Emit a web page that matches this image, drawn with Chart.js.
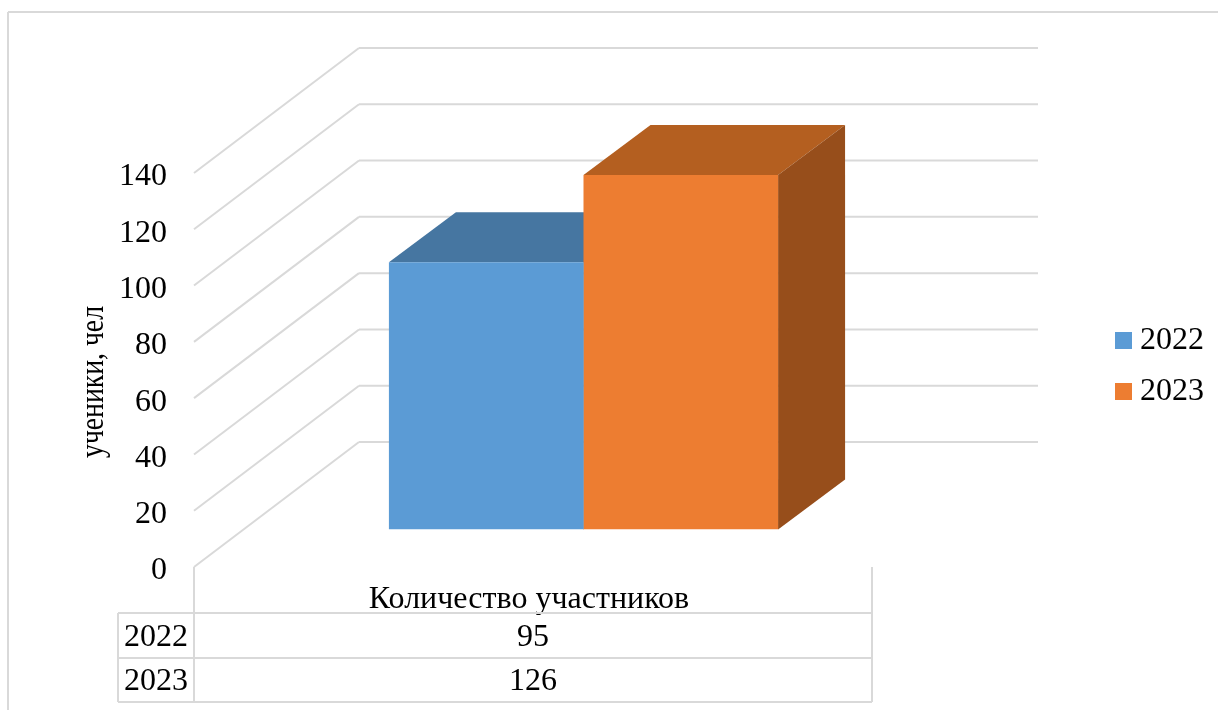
<!DOCTYPE html>
<html>
<head>
<meta charset="utf-8">
<style>
    html, body { margin: 0; padding: 0; background: #ffffff; }
    canvas { display: block; }
</style>
<script src="https://cdn.jsdelivr.net/npm/chart.js@4"></script>
</head>
<body>
<canvas id="chart" width="1218" height="710"></canvas>
<script>
const categories = ['Количество участников'];
const seriesNames = ['2022', '2023'];
const values2022 = [95];
const values2023 = [126];
const yTitle = 'ученики, чел';

const fontFamily = '"Liberation Serif", "Times New Roman", serif';
const fontSize = 32;
const gridColor = '#d9d9d9';

// perspective of the box the Excel 3D chart sits in
const wall = { dx: 165, dy: -125, right: 1038 };
const barShift = { dx: 50.5, dy: -37.5 };
const barDepth = { dx: 67, dy: -50 };
const faceColors = [
    { top: '#4676a1', side: '#38618a' },
    { top: '#b45f20', side: '#974e1b' }
];

function fillFace(ctx, color, points) {
    ctx.fillStyle = color;
    ctx.beginPath();
    points.forEach((p, i) => i ? ctx.lineTo(p[0], p[1]) : ctx.moveTo(p[0], p[1]));
    ctx.closePath();
    ctx.fill();
}

function strokeLine(ctx, x1, y1, x2, y2) {
    ctx.beginPath();
    ctx.moveTo(x1, y1);
    ctx.lineTo(x2, y2);
    ctx.stroke();
}

const box3d = {
    id: 'box3d',
    beforeDatasetsDraw(chart) {
        const ctx = chart.ctx;
        const y = chart.scales.y;
        const left = chart.chartArea.left;

        ctx.save();
        ctx.strokeStyle = gridColor;
        ctx.lineWidth = 2;
        y.ticks.forEach(tick => {
            const py = y.getPixelForValue(tick.value);
            strokeLine(ctx, left, py, left + wall.dx, py + wall.dy);
            strokeLine(ctx, left + wall.dx, py + wall.dy, wall.right, py + wall.dy);
        });

        // top and side faces go under every front face
        chart.data.datasets.forEach((ds, i) => {
            const bar = chart.getDatasetMeta(i).data[0];
            const x1 = bar.x - bar.width / 2 + barShift.dx;
            const x2 = bar.x + bar.width / 2 + barShift.dx;
            const top = bar.y + barShift.dy;
            const base = bar.base + barShift.dy;
            fillFace(ctx, faceColors[i].top, [[x1, top], [x1 + barDepth.dx, top + barDepth.dy],
                [x2 + barDepth.dx, top + barDepth.dy], [x2, top]]);
            fillFace(ctx, faceColors[i].side, [[x2, top], [x2 + barDepth.dx, top + barDepth.dy],
                [x2 + barDepth.dx, base + barDepth.dy], [x2, base]]);
        });
        ctx.restore();
    },
    beforeDatasetDraw(chart) {
        chart.ctx.save();
        chart.ctx.translate(barShift.dx, barShift.dy);
    },
    afterDatasetDraw(chart) {
        chart.ctx.restore();
    }
};

const dataTable = {
    id: 'dataTable',
    afterLayout(chart) {
        chart.legend.left = 1104;
        chart.legend.right = chart.legend.left + chart.legend.width;
        chart.legend.top -= 4;
        chart.legend.bottom -= 4;
    },
    afterDraw(chart) {
        const ctx = chart.ctx;
        const left = chart.chartArea.left;
        const right = chart.chartArea.right;
        const bottom = chart.chartArea.bottom;
        const tableLeft = 118;
        const rowLines = [613, 658, 702];
        const rowValues = [values2022, values2023];

        ctx.save();
        ctx.strokeStyle = gridColor;
        ctx.lineWidth = 2;

        // frame of the source picture, only top and left are visible
        strokeLine(ctx, 8, 12, 1218, 12);
        strokeLine(ctx, 8, 12, 8, 710);

        strokeLine(ctx, left, bottom, left, rowLines[2]);
        strokeLine(ctx, right, bottom, right, rowLines[2]);
        strokeLine(ctx, tableLeft, rowLines[0], tableLeft, rowLines[2]);
        rowLines.forEach(py => strokeLine(ctx, tableLeft, py, right, py));

        ctx.fillStyle = '#000000';
        ctx.font = fontSize + 'px ' + fontFamily;
        ctx.textBaseline = 'middle';
        ctx.textAlign = 'center';
        seriesNames.forEach((name, i) => {
            const py = (rowLines[i] + rowLines[i + 1]) / 2 + 2;
            ctx.fillText(name, (tableLeft + left) / 2, py);
            ctx.fillText(String(rowValues[i][0]), (left + right) / 2, py);
        });

        // the source picture squeezes this title along its length
        ctx.font = '34px ' + fontFamily;
        ctx.translate(94, 382);
        ctx.rotate(-Math.PI / 2);
        ctx.scale(0.815, 1);
        ctx.fillText(yTitle, 0, 0);
        ctx.restore();
    }
};

new Chart(document.getElementById('chart'), {
    type: 'bar',
    data: {
        labels: categories,
        datasets: [
            { label: seriesNames[0], data: values2022, backgroundColor: '#5b9bd5', borderWidth: 0 },
            { label: seriesNames[1], data: values2023, backgroundColor: '#ed7d31', borderWidth: 0 }
        ]
    },
    plugins: [box3d, dataTable],
    options: {
        responsive: false,
        animation: false,
        layout: {
            padding: { left: 0, top: 173, right: 236, bottom: 0 }
        },
        datasets: {
            bar: { barPercentage: 1, categoryPercentage: 0.574 }
        },
        plugins: {
            tooltip: { enabled: false },
            legend: {
                position: 'right',
                fullSize: false,
                labels: {
                    color: '#000000',
                    font: { family: fontFamily, size: fontSize },
                    usePointStyle: true,
                    pointStyle: 'rect',
                    boxWidth: 1,
                    boxHeight: 17,
                    padding: 19
                }
            }
        },
        scales: {
            x: {
                grid: { display: false },
                border: { display: false },
                ticks: {
                    color: '#000000',
                    font: { family: fontFamily, size: fontSize },
                    padding: 5,
                    labelOffset: -4,
                    maxRotation: 0
                },
                afterFit: scale => { scale.height = 143; }
            },
            y: {
                min: 0,
                max: 140,
                grid: { display: false, drawTicks: false },
                border: { display: false },
                ticks: {
                    stepSize: 20,
                    color: '#000000',
                    font: { family: fontFamily, size: fontSize },
                    padding: 27,
                    labelOffset: 4
                },
                afterFit: scale => { scale.width = 194; }
            }
        }
    }
});
</script>
</body>
</html>
